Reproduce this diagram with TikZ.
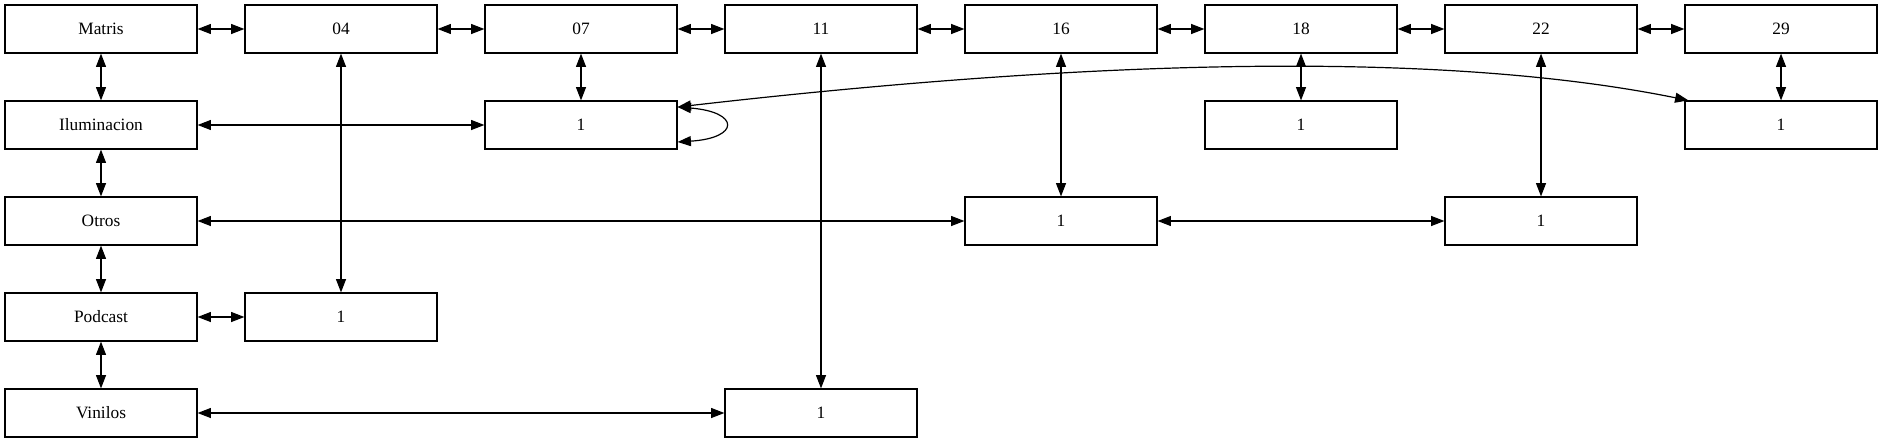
\documentclass[tikz,border=0pt]{standalone}
\usepackage{fontspec}
\setmainfont{Liberation Serif}
\usetikzlibrary{arrows.meta}
\begin{document}
\begin{tikzpicture}[x=0.75pt,y=-0.75pt,
  box/.style={draw,line width=0.9pt,minimum width=144pt,minimum height=36pt,inner sep=0pt,font=\fontsize{13}{15}\selectfont},
  link/.style={line width=0.9pt,{Triangle[length=10pt,width=7.5pt]}-{Triangle[length=10pt,width=7.5pt]}}]
\useasboundingbox (0,0) rectangle (1883,443);
% row 0
\node[box] (matris) at (101,29) {Matris};
\node[box] (n04) at (341,29) {04};
\node[box] (n07) at (581,29) {07};
\node[box] (n11) at (821,29) {11};
\node[box] (n16) at (1061,29) {16};
\node[box] (n18) at (1301,29) {18};
\node[box] (n22) at (1541,29) {22};
\node[box] (n29) at (1781,29) {29};
% row 1
\node[box] (ilum) at (101,125) {Iluminacion};
\node[box] (n07i) at (581,125) {1};
\node[box] (n18i) at (1301,125) {1};
\node[box] (n29i) at (1781,125) {1};
% row 2
\node[box] (otros) at (101,221) {Otros};
\node[box] (n16o) at (1061,221) {1};
\node[box] (n22o) at (1541,221) {1};
% row 3
\node[box] (podcast) at (101,317) {Podcast};
\node[box] (n04p) at (341,317) {1};
% row 4
\node[box] (vinilos) at (101,413) {Vinilos};
\node[box] (n11v) at (821,413) {1};
% top chain
\draw[link] (matris) -- (n04);
\draw[link] (n04) -- (n07);
\draw[link] (n07) -- (n11);
\draw[link] (n11) -- (n16);
\draw[link] (n16) -- (n18);
\draw[link] (n18) -- (n22);
\draw[link] (n22) -- (n29);
% left chain
\draw[link] (matris) -- (ilum);
\draw[link] (ilum) -- (otros);
\draw[link] (otros) -- (podcast);
\draw[link] (podcast) -- (vinilos);
% verticals
\draw[link] (n04) -- (n04p);
\draw[link] (n07) -- (n07i);
\draw[link] (n11) -- (n11v);
\draw[link] (n16) -- (n16o);
\draw[link] (n18) -- (n18i);
\draw[link] (n22) -- (n22o);
\draw[link] (n29) -- (n29i);
% horizontals
\draw[link] (ilum) -- (n07i);
\draw[link] (otros) -- (n16o);
\draw[link] (n16o) -- (n22o);
\draw[link] (podcast) -- (n04p);
\draw[link] (vinilos) -- (n11v);
% loop and long curve
\draw[link] ([yshift=13.5pt]n07i.east) .. controls (740,112) and (740,138) .. ([yshift=-12.75pt]n07i.east);
\draw[link] ([yshift=13.5pt]n07i.east) .. controls (1000,70) and (1400,42) .. ([xshift=3pt]n29i.north west);
\end{tikzpicture}
\end{document}
